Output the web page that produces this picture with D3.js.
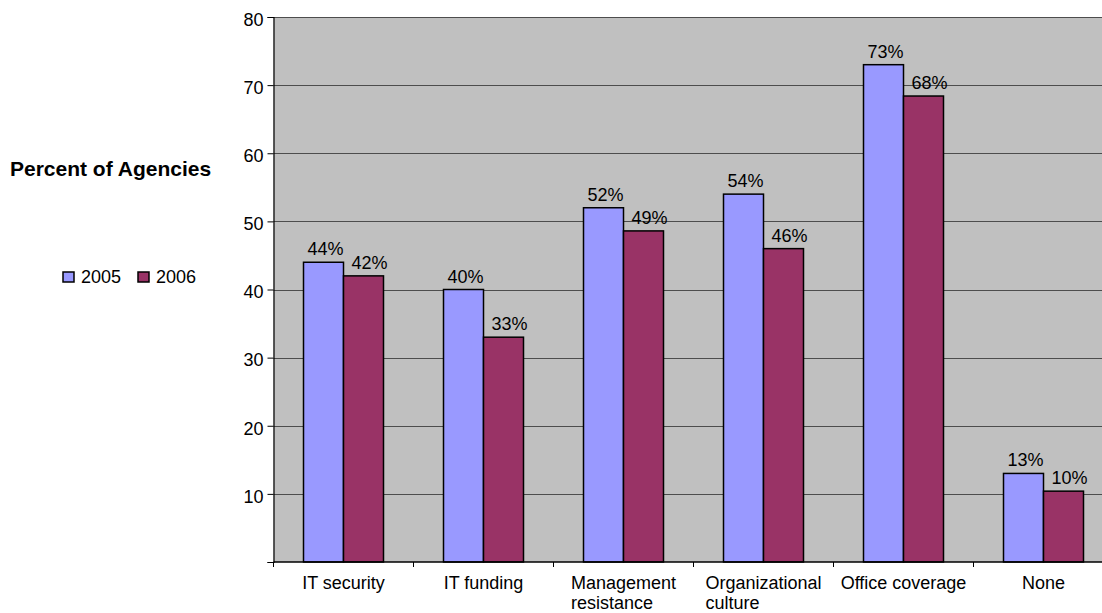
<!DOCTYPE html>
<html>
<head>
<meta charset="utf-8">
<script src="https://cdn.jsdelivr.net/npm/d3@7/dist/d3.min.js"></script>
<style>
  html, body { margin: 0; padding: 0; background: #fff; }
  svg { display: block; font-family: "Liberation Sans", Arial, sans-serif; }
</style>
</head>
<body>
<svg id="chart" width="1102" height="613"></svg>
<script>
// Obstacles reported by agencies, share of agencies per year
const categories = [["IT security"], ["IT funding"], ["Management", "resistance"],
                    ["Organizational", "culture"], ["Office coverage"], ["None"]];
const seriesNames = ["2005", "2006"];
const values2005 = [44, 40, 52, 54, 73, 13];
const values2006 = [42, 33, 48.6, 46, 68.4, 10.4];
const yTicks = [10, 20, 30, 40, 50, 60, 70, 80];
const seriesColors = ["#9999FF", "#993366"];
const yTitle = "Percent of Agencies";

const svg = d3.select("#chart");
const W = 1102, H = 613;
const plot = { left: 273.5, right: 1113.5, top: 17, bottom: 562 };

const catKeys = categories.map(c => c.join(" "));
const x = d3.scaleBand()
  .domain(catKeys)
  .range([plot.left, plot.right])
  .paddingInner(3 / 7)
  .paddingOuter(3 / 14);
const xs = d3.scaleBand().domain(seriesNames).range([0, x.bandwidth()]);
const y = d3.scaleLinear().domain([0, 80]).range([plot.bottom, plot.top]);

// Plot background
svg.append("rect")
  .attr("x", plot.left).attr("y", plot.top)
  .attr("width", plot.right - plot.left).attr("height", plot.bottom - plot.top)
  .attr("fill", "#C0C0C0");

// Horizontal gridlines
svg.append("g").selectAll("line").data(yTicks).join("line")
  .attr("x1", plot.left).attr("x2", plot.right)
  .attr("y1", d => Math.round(y(d)) + 0.5).attr("y2", d => Math.round(y(d)) + 0.5)
  .attr("stroke", "#4d4d4d").attr("stroke-width", 1.2);

// Bars
const rows = catKeys.map((k, i) => ({ key: k, vals: [values2005[i], values2006[i]] }));
const groups = svg.append("g").selectAll("g").data(rows).join("g")
  .attr("transform", d => `translate(${x(d.key)},0)`);

groups.selectAll("rect")
  .data(d => d.vals.map((v, j) => ({ series: seriesNames[j], v, j })))
  .join("rect")
  .attr("x", d => xs(d.series))
  .attr("y", d => y(d.v))
  .attr("width", xs.bandwidth())
  .attr("height", d => y(0) - y(d.v))
  .attr("fill", d => seriesColors[d.j])
  .attr("stroke", "#000").attr("stroke-width", 1.5);

// Value labels
groups.selectAll("text")
  .data(d => d.vals.map((v, j) => ({ series: seriesNames[j], v, j })))
  .join("text")
  .attr("x", d => xs(d.series) + xs.bandwidth() / 2 + (d.j === 0 ? 2 : 6))
  .attr("y", d => y(d.v) - 7)
  .attr("text-anchor", "middle")
  .attr("font-size", 18).attr("fill", "#000")
  .text(d => Math.round(d.v) + "%");

// Y axis
const yAxis = d3.axisLeft(y).tickValues([0].concat(yTicks)).tickSize(6).tickPadding(4)
  .tickFormat(d => d === 0 ? "" : d);
const gy = svg.append("g").attr("transform", `translate(${plot.left},0)`).call(yAxis);
gy.select(".domain").attr("stroke", "#000").attr("stroke-width", 1.2);
gy.selectAll(".tick line").attr("stroke", "#000");
gy.selectAll(".tick text")
  .attr("font-size", 18).attr("font-family", "Liberation Sans, Arial, sans-serif")
  .attr("fill", "#000").attr("dy", "0.46em");

// X axis baseline with ticks at category boundaries
const boundaries = d3.range(catKeys.length + 1).map(i => plot.left + i * x.step());
svg.append("line")
  .attr("x1", plot.left).attr("x2", plot.right)
  .attr("y1", plot.bottom).attr("y2", plot.bottom)
  .attr("stroke", "#000").attr("stroke-width", 1.5);
svg.append("g").selectAll("line").data(boundaries).join("line")
  .attr("x1", d => d).attr("x2", d => d)
  .attr("y1", plot.bottom).attr("y2", plot.bottom + 5)
  .attr("stroke", "#000");

// Category labels (wrapped lines left-aligned, block centred on the category)
const measure = svg.append("text").attr("font-size", 18).attr("visibility", "hidden");
categories.forEach((lines, i) => {
  const cx = x(catKeys[i]) + x.bandwidth() / 2;
  const widths = lines.map(l => { measure.text(l); return measure.node().getComputedTextLength(); });
  const blockW = d3.max(widths);
  const t = svg.append("text")
    .attr("font-size", 18).attr("fill", "#000")
    .attr("text-anchor", lines.length > 1 ? "start" : "middle");
  lines.forEach((l, k) => {
    t.append("tspan")
      .attr("x", lines.length > 1 ? cx - blockW / 2 : cx)
      .attr("y", 589 + k * 20)
      .text(l);
  });
});
measure.remove();

// Axis title
svg.append("text")
  .attr("x", 10).attr("y", 176)
  .attr("font-size", 21).attr("font-weight", "bold").attr("fill", "#000")
  .text(yTitle);

// Legend
const legend = svg.append("g");
const legendX = [63, 138];
seriesNames.forEach((name, j) => {
  legend.append("rect")
    .attr("x", legendX[j]).attr("y", 272)
    .attr("width", 11).attr("height", 10)
    .attr("fill", seriesColors[j]).attr("stroke", "#000").attr("stroke-width", 1.5);
  legend.append("text")
    .attr("x", legendX[j] + 18).attr("y", 282.5)
    .attr("font-size", 18).attr("fill", "#000")
    .text(name);
});
</script>
</body>
</html>
